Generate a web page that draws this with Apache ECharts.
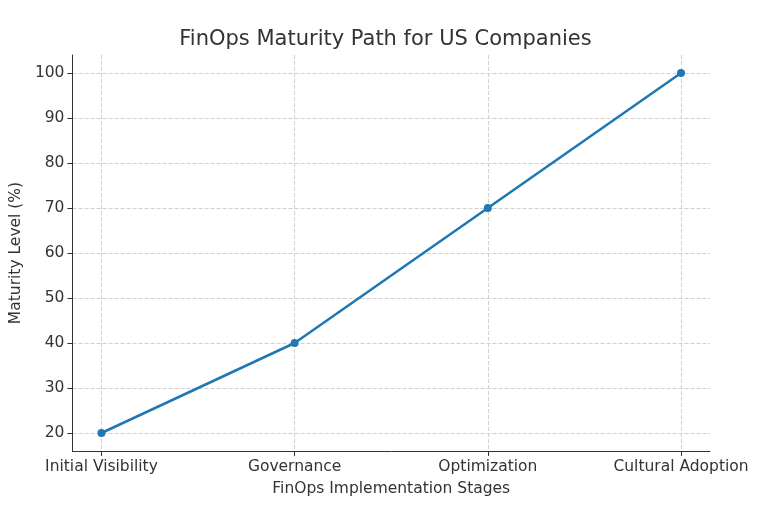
<!DOCTYPE html>
<html><head><meta charset="utf-8">
<script src="https://cdn.jsdelivr.net/npm/echarts@6/dist/echarts.min.js"></script>
<style>html,body{margin:0;background:#fff}#c{width:771px;height:520px}</style>
</head><body><div id="c"></div>
<script>
const categories=["Initial Visibility","Governance","Optimization","Cultural Adoption"];
const maturity=[20,40,70,100];
const yTicks=[20,30,40,50,60,70,80,90,100];
const xIdx=categories.map((c,i)=>i);
const chart=echarts.init(document.getElementById('c'));
const font='DejaVu Sans';
chart.setOption({
 animation:false,
 title:{text:'FinOps Maturity Path for US Companies',left:'center',top:24,textStyle:{fontFamily:font,fontSize:21,fontWeight:'normal',color:'#333'}},
 grid:{left:71,right:61,top:55,bottom:69},
 xAxis:{type:'value',min:-0.15,max:3.15,
  name:'FinOps Implementation Stages',nameLocation:'middle',nameGap:30,nameTextStyle:{fontFamily:font,fontSize:15.5,color:'#333'},
  axisLine:{show:true,onZero:false,lineStyle:{color:'#333'}},
  axisTick:{show:true,customValues:xIdx,length:5,lineStyle:{color:'#333'}},
  axisLabel:{customValues:xIdx,formatter:v=>categories[Math.round(v)],fontFamily:font,fontSize:15.5,color:'#333'},
  splitLine:{show:true,lineStyle:{type:'dashed',color:'#d0d0d0'}}},
 yAxis:{type:'value',min:16,max:104,
  name:'Maturity Level (%)',nameLocation:'middle',nameGap:45,nameTextStyle:{fontFamily:font,fontSize:15.5,color:'#333'},
  axisLine:{show:true,onZero:false,lineStyle:{color:'#333'}},
  axisTick:{show:true,customValues:yTicks,length:5,lineStyle:{color:'#333'}},
  axisLabel:{customValues:yTicks,fontFamily:font,fontSize:15.5,color:'#333'},
  splitLine:{show:true,lineStyle:{type:'dashed',color:'#d0d0d0'}}},
 series:[{type:'line',data:maturity.map((v,i)=>[i,v]),symbol:'circle',symbolSize:8,
  itemStyle:{color:'#1f77b4'},lineStyle:{color:'#1f77b4',width:2.5}}]
});
</script></body></html>
